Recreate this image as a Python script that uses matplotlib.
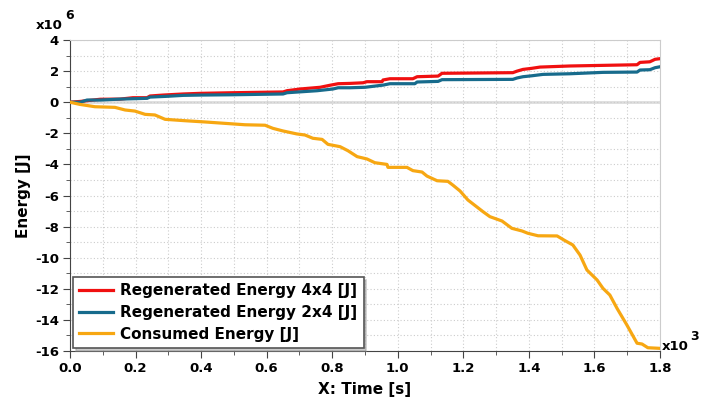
import matplotlib
matplotlib.use("Agg")
import matplotlib.pyplot as plt
from matplotlib.ticker import MultipleLocator, FormatStrFormatter

# time in x10^3 s, energy in x10^6 J
t_red = [0.0, 0.031, 0.092, 0.153, 0.192, 0.235, 0.244, 0.284, 0.345, 0.397, 0.497, 0.650, 0.662,
         0.702, 0.763, 0.793, 0.818, 0.854, 0.894, 0.906, 0.952, 0.955, 0.976, 1.046, 1.059, 1.123,
         1.135, 1.351, 1.364, 1.382, 1.409, 1.434, 1.525, 1.626, 1.730, 1.739, 1.769, 1.785, 1.800]
e_red = [0.0, 0.05, 0.19, 0.20, 0.29, 0.29, 0.40, 0.46, 0.53, 0.57, 0.61, 0.66, 0.74,
         0.85, 0.96, 1.09, 1.19, 1.21, 1.25, 1.32, 1.32, 1.43, 1.51, 1.51, 1.64, 1.68,
         1.86, 1.90, 2.00, 2.11, 2.18, 2.26, 2.33, 2.37, 2.41, 2.56, 2.60, 2.76, 2.80]

t_blue = [0.0, 0.031, 0.052, 0.092, 0.153, 0.235, 0.244, 0.296, 0.345, 0.397, 0.497, 0.650, 0.662,
          0.754, 0.802, 0.818, 0.854, 0.900, 0.955, 0.976, 1.052, 1.059, 1.123, 1.135, 1.351,
          1.364, 1.382, 1.409, 1.443, 1.525, 1.626, 1.730, 1.739, 1.769, 1.785, 1.800]
e_blue = [0.0, 0.0, 0.14, 0.14, 0.20, 0.25, 0.33, 0.38, 0.44, 0.46, 0.48, 0.53, 0.61,
          0.74, 0.85, 0.93, 0.93, 0.96, 1.10, 1.19, 1.19, 1.30, 1.34, 1.45, 1.47,
          1.56, 1.64, 1.70, 1.79, 1.83, 1.92, 1.94, 2.07, 2.09, 2.22, 2.28]

t_cons = [0.0, 0.030, 0.076, 0.137, 0.168, 0.198, 0.229, 0.259, 0.290, 0.351, 0.412, 0.473, 0.534,
          0.595, 0.619, 0.650, 0.692, 0.717, 0.741, 0.769, 0.787, 0.824, 0.848, 0.876, 0.906,
          0.930, 0.967, 0.970, 1.028, 1.046, 1.074, 1.089, 1.120, 1.153, 1.168, 1.190, 1.214,
          1.260, 1.281, 1.318, 1.348, 1.379, 1.397, 1.428, 1.486, 1.510, 1.534, 1.556, 1.577,
          1.608, 1.626, 1.647, 1.669, 1.699, 1.730, 1.745, 1.763, 1.800]
e_cons = [0.0, -0.14, -0.29, -0.33, -0.50, -0.57, -0.78, -0.82, -1.10, -1.19, -1.27, -1.36, -1.45,
          -1.48, -1.68, -1.85, -2.04, -2.11, -2.32, -2.39, -2.71, -2.86, -3.12, -3.50, -3.65,
          -3.89, -4.00, -4.19, -4.19, -4.40, -4.49, -4.75, -5.05, -5.09, -5.33, -5.71, -6.29,
          -7.04, -7.36, -7.64, -8.11, -8.28, -8.43, -8.59, -8.60, -8.90, -9.18, -9.83, -10.79,
          -11.43, -11.97, -12.40, -13.26, -14.33, -15.50, -15.55, -15.79, -15.83]

labels = ["Regenerated Energy 4x4 [J]", "Regenerated Energy 2x4 [J]", "Consumed Energy [J]"]
colors = ["#f01010", "#176b8c", "#f7a712"]

plt.rcParams['font.family'] = ['DejaVu Sans']
plt.rcParams['font.weight'] = 'bold'
plt.rcParams['axes.unicode_minus'] = False

fig = plt.figure(figsize=(7.08, 3.99), dpi=100)
ax = fig.add_axes([0.0989, 0.1203, 0.8333, 0.7794])

ax.axhline(0, color="#dddddd", lw=2, zorder=1)
ax.plot(t_red, e_red, color=colors[0], lw=2.3, label=labels[0], zorder=3)
ax.plot(t_blue, e_blue, color=colors[1], lw=2.3, label=labels[1], zorder=3)
ax.plot(t_cons, e_cons, color=colors[2], lw=2.3, label=labels[2], zorder=3)

ax.set_xlim(0, 1.8)
ax.set_ylim(-16, 4)
ax.xaxis.set_major_locator(MultipleLocator(0.2))
ax.xaxis.set_minor_locator(MultipleLocator(0.1))
ax.yaxis.set_major_locator(MultipleLocator(2))
ax.yaxis.set_minor_locator(MultipleLocator(1))
ax.xaxis.set_major_formatter(FormatStrFormatter('%.1f'))
ax.grid(which='both', color="#cccccc", ls=(0, (1, 2)), lw=0.8, zorder=0)

for s in ['top', 'right']:
    ax.spines[s].set_color("#cccccc")
for s in ['left', 'bottom']:
    ax.spines[s].set_color("#444444")
ax.tick_params(which='major', length=5, color="#444444", labelsize=9.5, pad=3)
ax.tick_params(which='minor', length=3, color="#444444")
for lab in ax.get_xticklabels() + ax.get_yticklabels():
    lab.set_fontweight('bold')

ax.set_xlabel("X: Time [s]", fontsize=11, fontweight='bold', labelpad=5)
ax.set_ylabel("Energy [J]", fontsize=11, fontweight='bold', labelpad=3)

fig.text(0.051, 0.935, "x10", fontsize=9.5, fontweight='bold', ha='left', va='center')
fig.text(0.092, 0.96, "6", fontsize=9, fontweight='bold', ha='left', va='center')
fig.text(0.935, 0.132, "x10", fontsize=9.5, fontweight='bold', ha='left', va='center')
fig.text(0.975, 0.157, "3", fontsize=9, fontweight='bold', ha='left', va='center')

leg = ax.legend(loc='lower left', bbox_to_anchor=(0.0, 0.0), fontsize=11, fancybox=False,
                shadow={'ox': 2, 'oy': -2, 'color': '#999999'}, framealpha=1, edgecolor="#555555",
                handlelength=2.2, borderaxespad=0.2, labelspacing=0.45, handletextpad=0.5)
for txt in leg.get_texts():
    txt.set_fontweight('bold')
leg.get_frame().set_linewidth(1.2)

fig.savefig("out.png", dpi=100)
